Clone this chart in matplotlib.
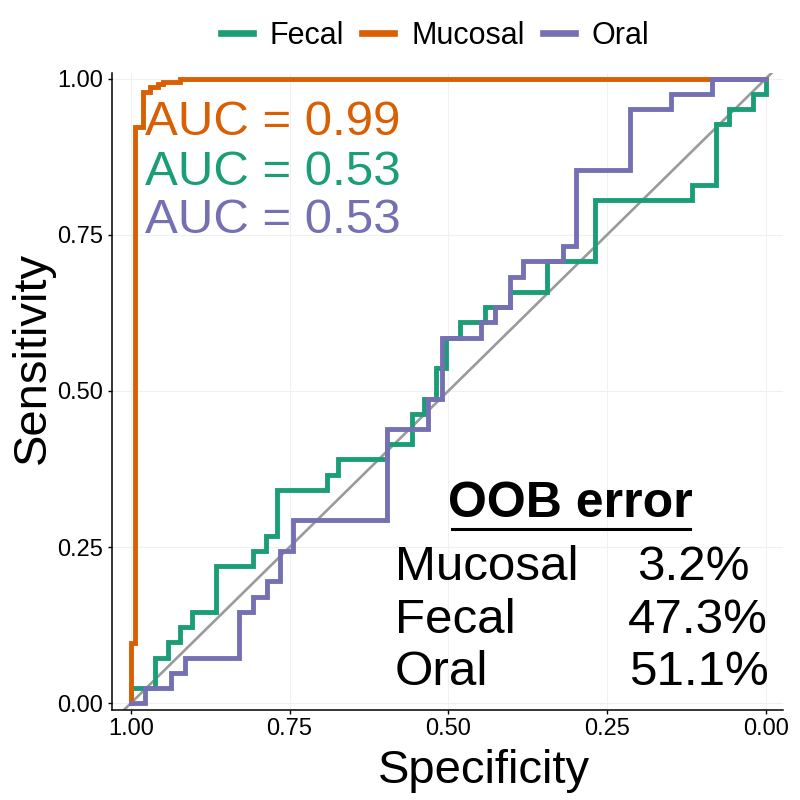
import numpy as np
import matplotlib
matplotlib.use("Agg")
import matplotlib.pyplot as plt
from matplotlib.lines import Line2D

plt.rcParams['font.family'] = ['Liberation Sans', 'DejaVu Sans']

# ROC vertices (specificity, sensitivity)
n_pos = 41

fecal_spec = [1.000, 1.000, 0.962, 0.962, 0.941, 0.941, 0.922, 0.922, 0.904, 0.904,
              0.866, 0.866, 0.807, 0.807, 0.787, 0.787, 0.769, 0.769, 0.691, 0.691,
              0.673, 0.673, 0.597, 0.597, 0.558, 0.558, 0.539, 0.539, 0.519, 0.519,
              0.503, 0.503, 0.481, 0.481, 0.442, 0.442, 0.403, 0.403, 0.345, 0.345,
              0.269, 0.269, 0.116, 0.116, 0.078, 0.078, 0.058, 0.058, 0.020, 0.020,
              0.000, 0.000]
fecal_hits = [0, 1, 1, 3, 3, 4, 4, 5, 5, 6,
              6, 9, 9, 10, 10, 11, 11, 14, 14, 15,
              15, 16, 16, 17, 17, 19, 19, 20, 20, 22,
              22, 24, 24, 25, 25, 26, 26, 27, 27, 29,
              29, 33, 33, 34, 34, 38, 38, 39, 39, 40,
              40, 41]

oral_spec = [1.000, 0.977, 0.977, 0.937, 0.937, 0.915, 0.915, 0.829, 0.829, 0.808,
             0.808, 0.786, 0.786, 0.765, 0.765, 0.745, 0.745, 0.596, 0.596, 0.532,
             0.532, 0.510, 0.510, 0.448, 0.448, 0.427, 0.427, 0.403, 0.403, 0.383,
             0.383, 0.319, 0.319, 0.299, 0.299, 0.214, 0.214, 0.150, 0.150, 0.085,
             0.085, 0.000]
oral_hits = [0, 0, 1, 1, 2, 2, 3, 3, 6, 6,
             7, 7, 8, 8, 10, 10, 12, 12, 18, 18,
             20, 20, 24, 24, 25, 25, 26, 26, 28, 28,
             29, 29, 30, 30, 35, 35, 39, 39, 40, 40,
             41, 41]

mucosal_spec = [1.000, 1.000, 0.993, 0.993, 0.981, 0.981, 0.970, 0.970, 0.957, 0.957,
                0.949, 0.949, 0.922, 0.922, 0.000]
mucosal_sens = [0.000, 0.097, 0.097, 0.923, 0.923, 0.979, 0.979, 0.987, 0.987, 0.991,
                0.991, 0.995, 0.995, 1.000, 1.000]

fecal_sens = np.array(fecal_hits) / n_pos
oral_sens = np.array(oral_hits) / n_pos

groups = ['Fecal', 'Mucosal', 'Oral']
colors = {'Fecal': '#1B9E77', 'Mucosal': '#D95F02', 'Oral': '#7570B3'}
auc_labels = [('Mucosal', 'AUC = 0.99'), ('Fecal', 'AUC = 0.53'), ('Oral', 'AUC = 0.53')]
oob_rows = [('Mucosal', '3.2%'), ('Fecal', '47.3%'), ('Oral', '51.1%')]

fig = plt.figure(figsize=(8, 8), dpi=100)
ax = fig.add_axes([0.1396, 0.1125, 0.8395, 0.796])

ax.grid(True, color='#F0F0F0', lw=0.8)
ax.set_axisbelow(True)

# chance line
ax.axline((1, 0), (0, 1), color='#9A9A9A', lw=1.9, zorder=2)

ax.plot(fecal_spec, fecal_sens, color=colors['Fecal'], lw=3.5, zorder=3,
        solid_joinstyle='miter')
ax.plot(mucosal_spec, mucosal_sens, color=colors['Mucosal'], lw=3.5, zorder=3,
        solid_joinstyle='miter')
ax.plot(oral_spec, oral_sens, color=colors['Oral'], lw=3.5, zorder=3,
        solid_joinstyle='miter')

ax.set_xlim(1.03, -0.0272)
ax.set_ylim(-0.0107, 1.0085)
ticks = [0, 0.25, 0.5, 0.75, 1.0]
ax.set_xticks(ticks)
ax.set_yticks(ticks)
ax.set_xticklabels(['%.2f' % t for t in ticks])
ax.set_yticklabels(['%.2f' % t for t in ticks])
ax.tick_params(labelsize=17, length=3, width=1, color='black', labelcolor='black', pad=3)

for s in ['top', 'right']:
    ax.spines[s].set_visible(False)
for s in ['left', 'bottom']:
    ax.spines[s].set_linewidth(1.1)

ax.set_xlabel('Specificity', fontsize=34)
ax.set_ylabel('Sensitivity', fontsize=34)
ax.xaxis.set_label_coords(0.5536, -0.1146)
ax.xaxis.label.set_va('baseline')
ax.yaxis.set_label_coords(-0.0993, 0.5534)
ax.yaxis.label.set_rotation_mode('anchor')
ax.yaxis.label.set_va('baseline')
ax.yaxis.label.set_ha('center')

# AUC annotations
for (g, txt), yb in zip(auc_labels, [0.9093, 0.829, 0.752]):
    ax.text(0.9775, yb, txt, color=colors[g], fontsize=35.5, ha='left', va='baseline')

# OOB error table
ax.text(0.3085, 0.298, 'OOB error', fontsize=36, fontweight='bold', ha='center', va='baseline')
ax.add_line(Line2D([0.4943, 0.1196], [0.2789, 0.2789], color='black', lw=2.2))
for (name, val), yb, xv in zip(oob_rows, [0.197, 0.1125, 0.0293], [0.2031, 0.2173, 0.2157]):
    ax.text(0.584, yb, name, fontsize=35.5, ha='left', va='baseline')
    ax.text(xv, yb, val, fontsize=35.5, ha='left', va='baseline')

handles = [Line2D([], [], color=colors[g], lw=4.8) for g in groups]
fig.legend(handles, groups, loc='center', bbox_to_anchor=(435 / 800, 1 - 36 / 800),
           ncol=3, frameon=False, fontsize=22, handlelength=1.05,
           handletextpad=0.55, columnspacing=0.6)

fig.savefig('out.png', dpi=100)
